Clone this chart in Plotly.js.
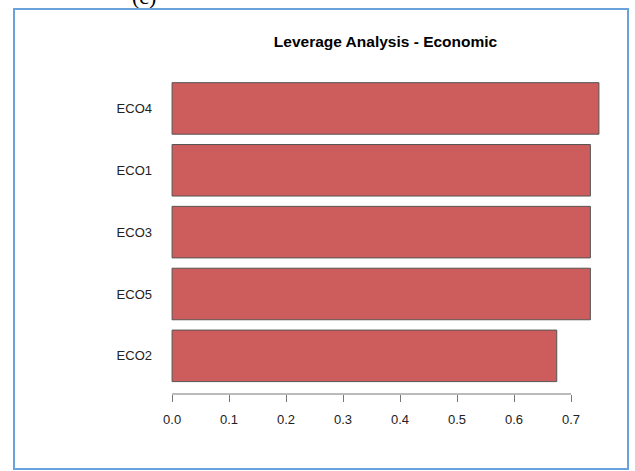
<!DOCTYPE html>
<html>
<head>
<meta charset="utf-8">
<script src="https://cdn.plot.ly/plotly-3.0.1.min.js"></script>
<style>
  html, body { margin: 0; padding: 0; background: #fff; }
  #wrap { position: relative; width: 635px; height: 471px; }
  #chart { position: absolute; left: 0; top: 0; width: 635px; height: 471px; }
  #frame { position: absolute; left: 13px; top: 8px; width: 612px; height: 458px;
           border: 2px solid #6aa3dc; pointer-events: none; }
</style>
</head>
<body>
<div id="wrap">
  <div id="chart"></div>
  <div id="frame"></div>
</div>
<script>
// Data (bottom to top, as drawn)
const categories = ["ECO2", "ECO5", "ECO3", "ECO1", "ECO4"];
const leverage = [0.675, 0.734, 0.734, 0.734, 0.749];
const tickValues = [0, 0.1, 0.2, 0.3, 0.4, 0.5, 0.6, 0.7];
const tickLabels = ["0.0", "0.1", "0.2", "0.3", "0.4", "0.5", "0.6", "0.7"];
const chartTitle = "Leverage Analysis - Economic";
const panelTag = "(c)";

const xmax = Math.max(...leverage);
const xpad = 0.04 * xmax;

const trace = {
  type: "bar",
  orientation: "h",
  x: leverage,
  y: categories,
  marker: { color: "#cd5c5c", line: { color: "#555555", width: 1 } },
  hoverinfo: "skip"
};

const layout = {
  width: 635,
  height: 471,
  margin: { l: 155, r: 19, t: 60, b: 77 },
  paper_bgcolor: "#ffffff",
  plot_bgcolor: "#ffffff",
  bargap: 0.167,
  showlegend: false,
  font: { family: "Liberation Sans, Arial, sans-serif", size: 13, color: "#222" },
  title: {
    text: "<b>" + chartTitle + "</b>",
    font: { family: "Liberation Sans, Arial, sans-serif", size: 15.5, color: "#000" },
    x: 0.5, xref: "paper", xanchor: "center",
    y: 1 - 42 / 471, yref: "container", yanchor: "middle"
  },
  xaxis: {
    range: [-xpad, xmax + xpad],
    tickvals: tickValues,
    ticktext: tickLabels,
    ticks: "outside",
    ticklen: 7,
    tickcolor: "#777",
    tickwidth: 1,
    showline: false,
    showgrid: false,
    zeroline: false,
    ticklabelstandoff: 6,
    tickfont: { size: 13, color: "#222" },
    fixedrange: true
  },
  yaxis: {
    type: "category",
    range: [-0.617, categories.length - 1 + 0.783],
    showgrid: false,
    zeroline: false,
    showline: false,
    ticks: "",
    ticklabelstandoff: 2,
    tickfont: { size: 13, color: "#222" },
    fixedrange: true
  },
  shapes: [{
    type: "line",
    xref: "x", yref: "paper",
    x0: tickValues[0], x1: tickValues[tickValues.length - 1],
    y0: 0, y1: 0,
    line: { color: "#777", width: 1 }
  }],
  annotations: [{
    text: panelTag,
    xref: "paper", yref: "paper",
    x: -0.024, y: 1.19,
    xanchor: "center", yanchor: "middle",
    showarrow: false,
    font: { family: "Liberation Serif, serif", size: 22, color: "#000" }
  }]
};

Plotly.newPlot("chart", [trace], layout, { displayModeBar: false, staticPlot: true });
</script>
</body>
</html>
